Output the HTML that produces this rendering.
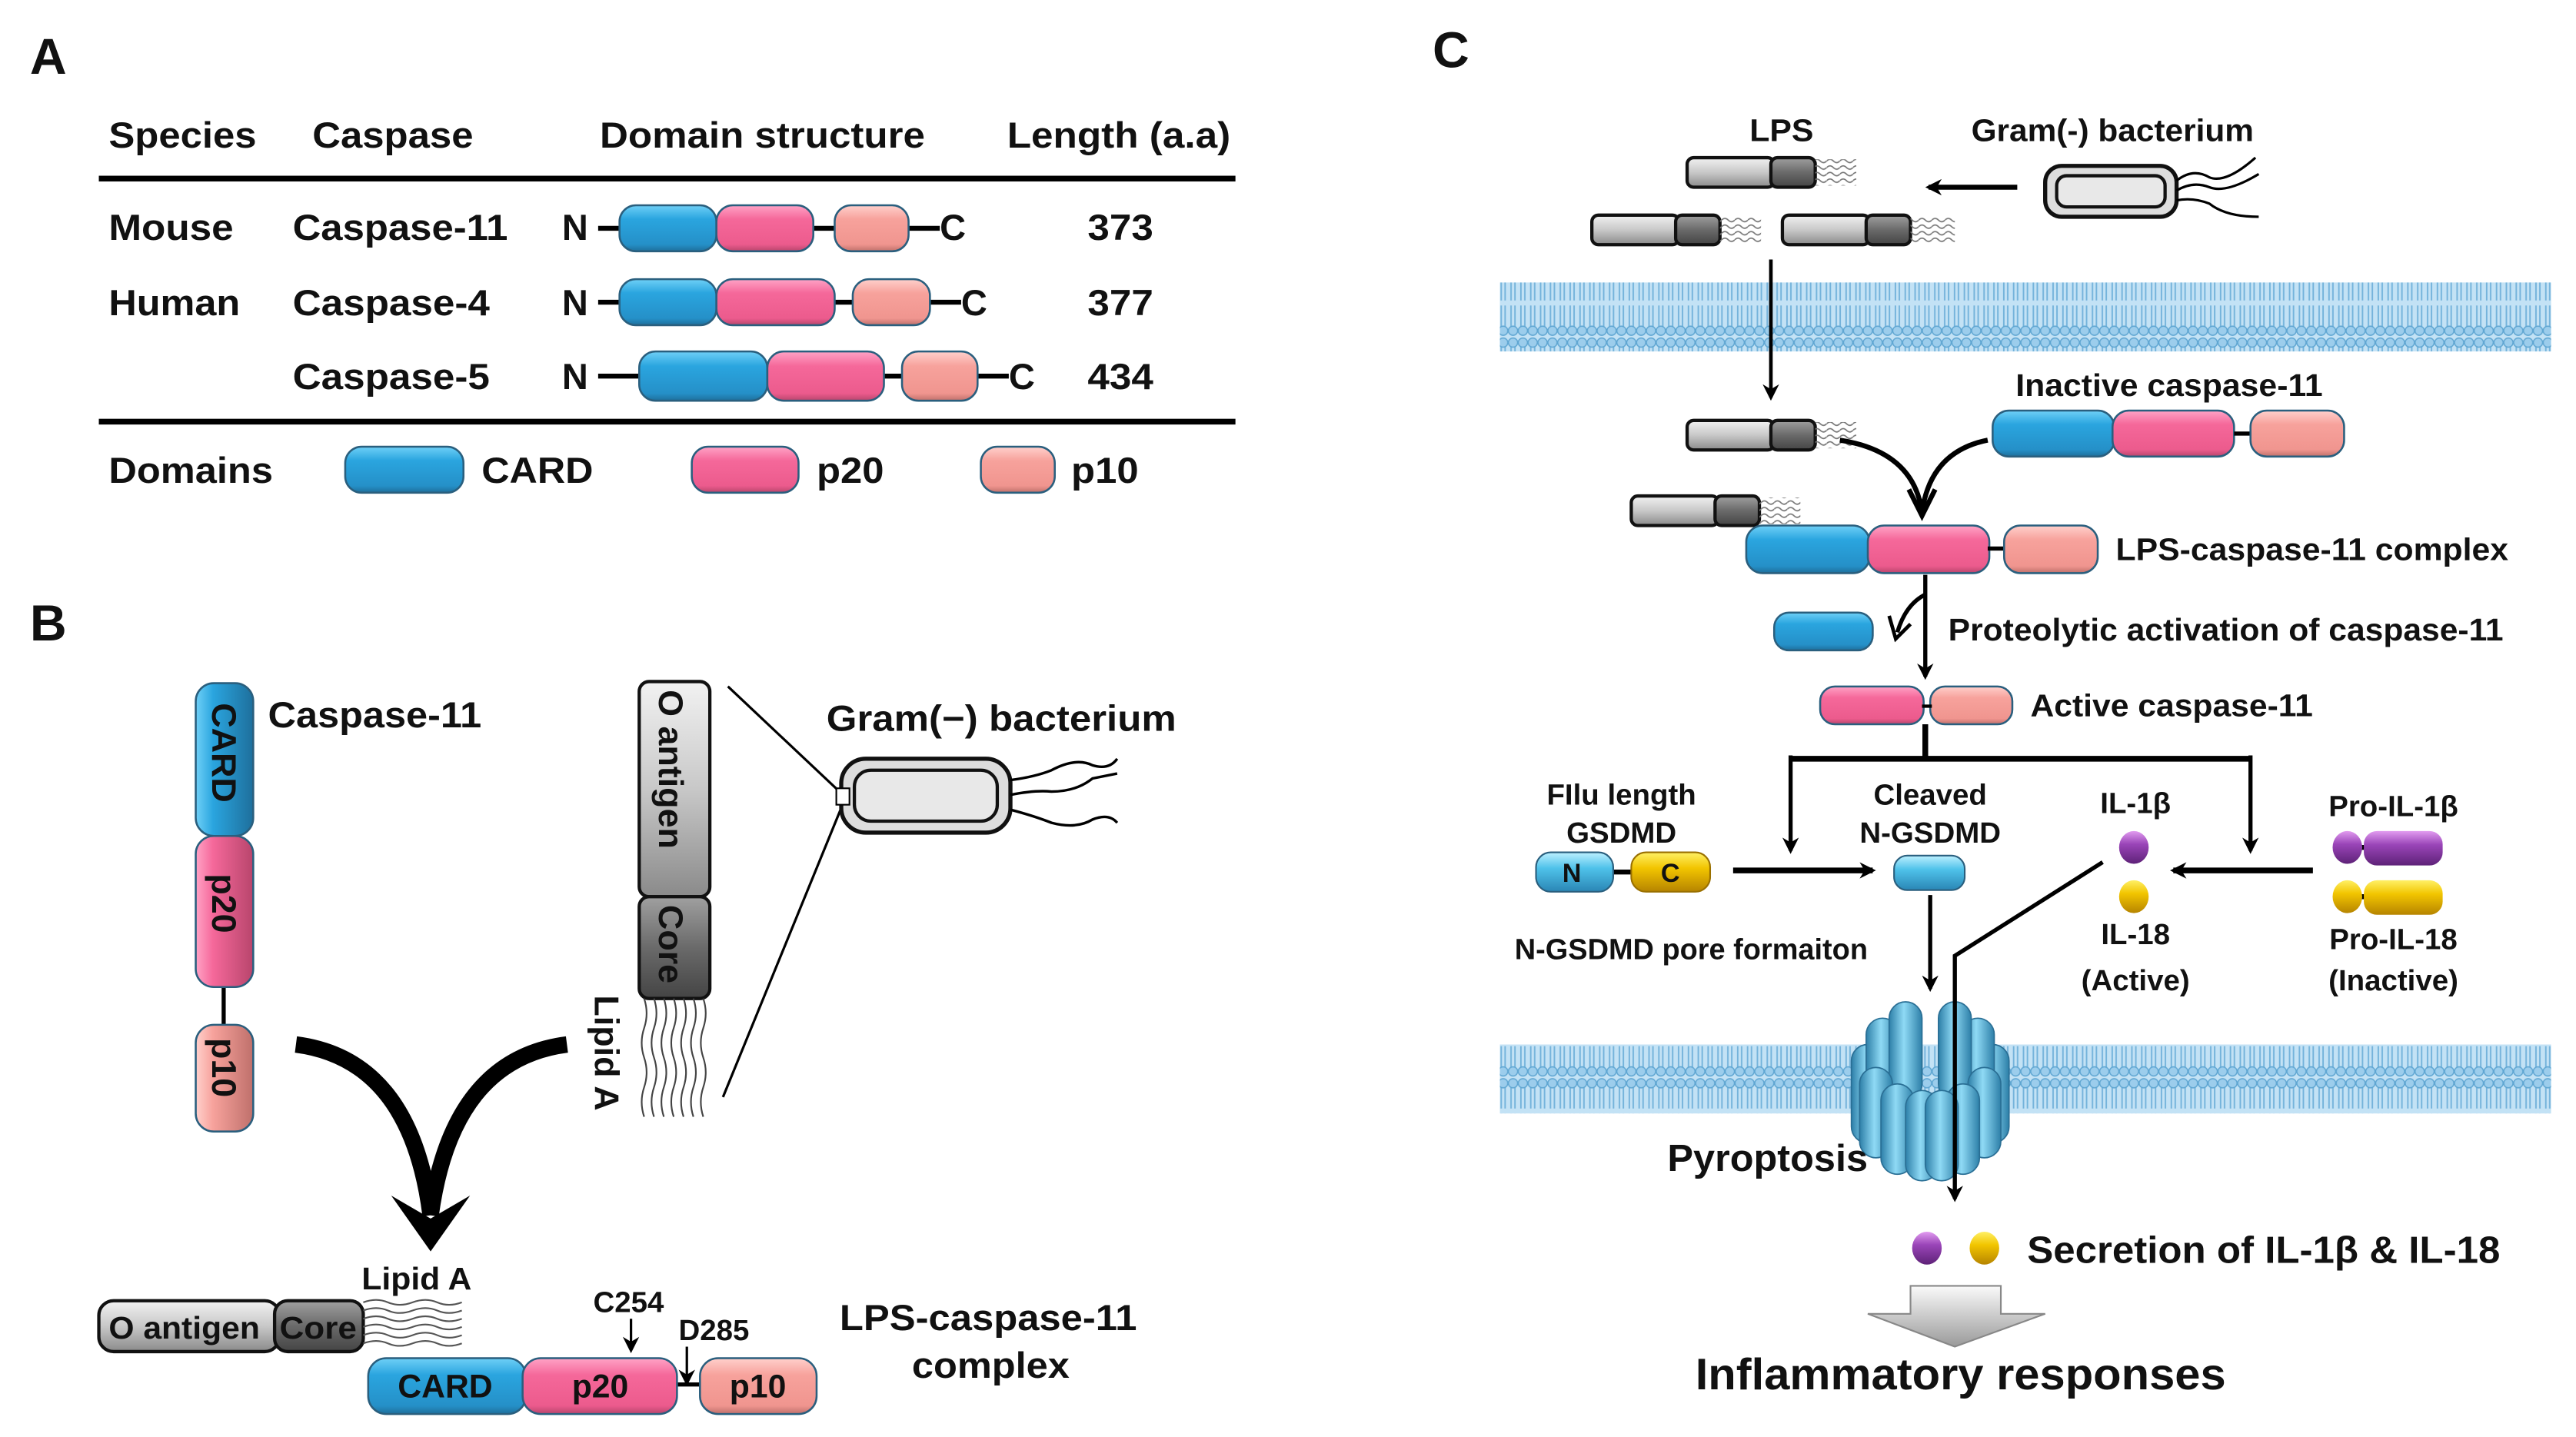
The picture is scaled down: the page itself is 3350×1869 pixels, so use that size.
<!DOCTYPE html>
<html><head><meta charset="utf-8"><style>html,body{margin:0;padding:0;background:#fff}svg{display:block}text{font-family:"Liberation Sans",Arial,sans-serif;font-weight:bold;fill:#111}</style></head>
<body>
<svg width="3350" height="1869" viewBox="0 0 1568 875" xmlns="http://www.w3.org/2000/svg">
<defs>
<linearGradient id="gb" x1="0" y1="0" x2="0" y2="1"><stop offset="0" stop-color="#6fd0f7"/><stop offset="0.3" stop-color="#2aa5df"/><stop offset="0.85" stop-color="#2590c8"/><stop offset="1" stop-color="#1e6f9c"/></linearGradient>
<linearGradient id="gp" x1="0" y1="0" x2="0" y2="1"><stop offset="0" stop-color="#ffa3c6"/><stop offset="0.3" stop-color="#f5689a"/><stop offset="0.85" stop-color="#ec5b8d"/><stop offset="1" stop-color="#b8456c"/></linearGradient>
<linearGradient id="gs" x1="0" y1="0" x2="0" y2="1"><stop offset="0" stop-color="#ffd0cc"/><stop offset="0.3" stop-color="#f7a29c"/><stop offset="0.85" stop-color="#f0958f"/><stop offset="1" stop-color="#bf706b"/></linearGradient>
<linearGradient id="gbv" x1="0" y1="0" x2="1" y2="0"><stop offset="0" stop-color="#6fd0f7"/><stop offset="0.3" stop-color="#2aa5df"/><stop offset="1" stop-color="#1e6f9c"/></linearGradient>
<linearGradient id="gpv" x1="0" y1="0" x2="1" y2="0"><stop offset="0" stop-color="#ffa3c6"/><stop offset="0.3" stop-color="#f5689a"/><stop offset="1" stop-color="#b8456c"/></linearGradient>
<linearGradient id="gsv" x1="0" y1="0" x2="1" y2="0"><stop offset="0" stop-color="#ffd0cc"/><stop offset="0.3" stop-color="#f7a29c"/><stop offset="1" stop-color="#bf706b"/></linearGradient>
<linearGradient id="gl" x1="0" y1="0" x2="0" y2="1"><stop offset="0" stop-color="#f2f2f2"/><stop offset="0.5" stop-color="#c8c8c8"/><stop offset="1" stop-color="#8a8a8a"/></linearGradient>
<linearGradient id="gd" x1="0" y1="0" x2="0" y2="1"><stop offset="0" stop-color="#a0a0a0"/><stop offset="0.5" stop-color="#6a6a6a"/><stop offset="1" stop-color="#444"/></linearGradient>
<linearGradient id="gy" x1="0" y1="0" x2="0" y2="1"><stop offset="0" stop-color="#fff066"/><stop offset="0.4" stop-color="#f2c500"/><stop offset="1" stop-color="#b68400"/></linearGradient>
<linearGradient id="gv" x1="0" y1="0" x2="0" y2="1"><stop offset="0" stop-color="#e29cf0"/><stop offset="0.4" stop-color="#9a45b8"/><stop offset="1" stop-color="#5e2278"/></linearGradient>
<linearGradient id="gc" x1="0" y1="0" x2="0" y2="1"><stop offset="0" stop-color="#bdf0ff"/><stop offset="0.4" stop-color="#4fc2ea"/><stop offset="1" stop-color="#2a86b5"/></linearGradient>
<linearGradient id="gpore" x1="0" y1="0" x2="1" y2="0"><stop offset="0" stop-color="#2d7fa8"/><stop offset="0.45" stop-color="#8fdaf5"/><stop offset="1" stop-color="#2d7fa8"/></linearGradient>
<linearGradient id="garr" x1="0" y1="0" x2="0" y2="1"><stop offset="0" stop-color="#fafafa"/><stop offset="1" stop-color="#9a9a9a"/></linearGradient>
<pattern id="mem" width="6" height="41" patternUnits="userSpaceOnUse">
<rect width="6" height="41" fill="#c3e2f5"/>
<path d="M1.8 6 V19 M4.2 6 V19 M1.8 22 V35 M4.2 22 V35" stroke="#74b3db" stroke-width="0.9"/>
<circle cx="3" cy="3.6" r="2.8" fill="#9ccdec" stroke="#5fa6d2" stroke-width="0.7"/>
<circle cx="3" cy="37.4" r="2.8" fill="#9ccdec" stroke="#5fa6d2" stroke-width="0.7"/>
</pattern>
<pattern id="lip" width="8" height="4" patternUnits="userSpaceOnUse">
<path d="M0 2 Q2 0 4 2 T8 2" fill="none" stroke="#777" stroke-width="0.8"/>
</pattern>
<marker id="ah" markerWidth="10" markerHeight="10" refX="8" refY="5" orient="auto" markerUnits="userSpaceOnUse"><path d="M0 0 L10 5 L0 10 L3 5z" fill="#000"/></marker>
</defs>

<!-- PANEL A -->
<text x="18" y="45" font-size="31">A</text>
<g font-size="22">
<text x="66" y="90" textLength="90" lengthAdjust="spacingAndGlyphs">Species</text><text x="190" y="90" textLength="98" lengthAdjust="spacingAndGlyphs">Caspase</text><text x="365" y="90" textLength="198" lengthAdjust="spacingAndGlyphs">Domain structure</text><text x="613" y="90" textLength="136" lengthAdjust="spacingAndGlyphs">Length (a.a)</text>
</g>
<rect x="60" y="107" width="692" height="3.5" fill="#000"/>
<rect x="60" y="255" width="692" height="3.5" fill="#000"/>
<g font-size="22">
<text x="66" y="146" textLength="76" lengthAdjust="spacingAndGlyphs">Mouse</text><text x="178" y="146" textLength="131" lengthAdjust="spacingAndGlyphs">Caspase-11</text><text x="342" y="146">N</text><text x="572" y="146">C</text><text x="662" y="146" textLength="40" lengthAdjust="spacingAndGlyphs">373</text>
<text x="66" y="192" textLength="80" lengthAdjust="spacingAndGlyphs">Human</text><text x="178" y="192" textLength="120" lengthAdjust="spacingAndGlyphs">Caspase-4</text><text x="342" y="192">N</text><text x="585" y="192">C</text><text x="662" y="192" textLength="40" lengthAdjust="spacingAndGlyphs">377</text>
<text x="178" y="237" textLength="120" lengthAdjust="spacingAndGlyphs">Caspase-5</text><text x="342" y="237">N</text><text x="614" y="237">C</text><text x="662" y="237" textLength="40" lengthAdjust="spacingAndGlyphs">434</text>
<text x="66" y="294" textLength="100" lengthAdjust="spacingAndGlyphs">Domains</text><text x="293" y="294" textLength="68" lengthAdjust="spacingAndGlyphs">CARD</text><text x="497" y="294" textLength="41" lengthAdjust="spacingAndGlyphs">p20</text><text x="652" y="294" textLength="41" lengthAdjust="spacingAndGlyphs">p10</text>
</g>
<g stroke="#000" stroke-width="3">
<line x1="364" y1="139" x2="572" y2="139"/><line x1="364" y1="184" x2="585" y2="184"/><line x1="364" y1="229" x2="614" y2="229"/>
</g>
<g stroke="#2a5f7e" stroke-width="1.2">
<rect x="377" y="125" width="59" height="28" rx="10" fill="url(#gb)"/><rect x="436" y="125" width="59" height="28" rx="10" fill="url(#gp)"/><rect x="508" y="125" width="45" height="28" rx="10" fill="url(#gs)"/>
<rect x="377" y="170" width="59" height="28" rx="10" fill="url(#gb)"/><rect x="436" y="170" width="72" height="28" rx="10" fill="url(#gp)"/><rect x="519" y="170" width="47" height="28" rx="10" fill="url(#gs)"/>
<rect x="389" y="214" width="78" height="30" rx="10" fill="url(#gb)"/><rect x="467" y="214" width="71" height="30" rx="10" fill="url(#gp)"/><rect x="549" y="214" width="46" height="30" rx="10" fill="url(#gs)"/>
<rect x="210" y="272" width="72" height="28" rx="10" fill="url(#gb)"/><rect x="421" y="272" width="65" height="28" rx="10" fill="url(#gp)"/><rect x="597" y="272" width="45" height="28" rx="10" fill="url(#gs)"/>
</g>

<!-- PANEL B -->
<text x="18" y="390" font-size="31">B</text>
<line x1="136" y1="600" x2="136" y2="625" stroke="#000" stroke-width="2.5"/>
<g stroke="#2a5f7e" stroke-width="1.2">
<rect x="119" y="416" width="35" height="93" rx="11" fill="url(#gbv)"/>
<rect x="119" y="509" width="35" height="92" rx="11" fill="url(#gpv)"/>
<rect x="119" y="624" width="35" height="65" rx="11" fill="url(#gsv)"/>
</g>
<g font-size="21">
<text transform="translate(129,428) rotate(90)">CARD</text>
<text transform="translate(129,532) rotate(90)">p20</text>
<text transform="translate(129,632) rotate(90)">p10</text>
<text x="163" y="443" font-size="22" textLength="130" lengthAdjust="spacingAndGlyphs">Caspase-11</text>
</g>
<rect x="389" y="415" width="43" height="131" rx="6" fill="url(#gl)" stroke="#111" stroke-width="2"/>
<rect x="389" y="546" width="43" height="62" rx="6" fill="url(#gd)" stroke="#111" stroke-width="2"/>
<g font-size="21"><text transform="translate(401,420) rotate(90)">O antigen</text><text transform="translate(401,551) rotate(90)">Core</text><text transform="translate(362,606) rotate(90)">Lipid A</text></g>
<g stroke="#444" stroke-width="1" fill="none">
<path d="M392 608 q3 9 0 18 q-3 9 0 18 q3 9 0 18 q-3 9 0 18"/><path d="M398 608 q3 9 0 18 q-3 9 0 18 q3 9 0 18 q-3 9 0 18"/><path d="M404 608 q3 9 0 18 q-3 9 0 18 q3 9 0 18 q-3 9 0 18"/><path d="M410 608 q3 9 0 18 q-3 9 0 18 q3 9 0 18 q-3 9 0 18"/><path d="M416 608 q3 9 0 18 q-3 9 0 18 q3 9 0 18 q-3 9 0 18"/><path d="M422 608 q3 9 0 18 q-3 9 0 18 q3 9 0 18 q-3 9 0 18"/><path d="M428 608 q3 9 0 18 q-3 9 0 18 q3 9 0 18 q-3 9 0 18"/>
</g>
<line x1="443" y1="418" x2="512" y2="483" stroke="#000" stroke-width="1.5"/>
<line x1="440" y1="668" x2="512" y2="492" stroke="#000" stroke-width="1.5"/>
<text x="503" y="445" font-size="22" textLength="213" lengthAdjust="spacingAndGlyphs">Gram(−) bacterium</text>
<rect x="512" y="462" width="103" height="45" rx="15" fill="#ddd" stroke="#111" stroke-width="2.5"/>
<rect x="520" y="469" width="87" height="31" rx="10" fill="#e8e8e8" stroke="#111" stroke-width="2"/>
<rect x="509" y="480" width="8" height="10" fill="#fff" stroke="#000" stroke-width="1"/>
<g stroke="#000" stroke-width="1.6" fill="none">
<path d="M615 475 q15 -2 25 -6 q15 -8 25 -3 q10 3 15 -4"/><path d="M615 484 q15 -3 25 -2 q15 0 25 -8 q10 -2 15 -3"/><path d="M615 493 q15 4 25 8 q15 4 25 -2 q10 -4 15 2"/>
</g>
<path d="M180 636 Q250 645 262 740 M345 636 Q275 645 262 740" fill="none" stroke="#000" stroke-width="10"/>
<path d="M238 728 L262 762 L286 728 L262 742z" fill="#000"/>
<text x="220" y="785" font-size="19" textLength="67" lengthAdjust="spacingAndGlyphs">Lipid A</text>
<rect x="60" y="792" width="110" height="31" rx="9" fill="url(#gl)" stroke="#111" stroke-width="2"/>
<rect x="167" y="792" width="54" height="31" rx="8" fill="url(#gd)" stroke="#111" stroke-width="2"/>
<text x="66" y="815" font-size="19" textLength="92" lengthAdjust="spacingAndGlyphs">O antigen</text><text x="170" y="815" font-size="19" textLength="47" lengthAdjust="spacingAndGlyphs">Core</text>
<g stroke="#555" stroke-width="1" fill="none">
<path d="M221 793 q8 -3 15 0 t15 0 t15 0 t15 0"/><path d="M221 798 q8 -3 15 0 t15 0 t15 0 t15 0"/><path d="M221 803 q8 -3 15 0 t15 0 t15 0 t15 0"/><path d="M221 808 q8 -3 15 0 t15 0 t15 0 t15 0"/><path d="M221 813 q8 -3 15 0 t15 0 t15 0 t15 0"/><path d="M221 818 q8 -3 15 0 t15 0 t15 0 t15 0"/>
</g>
<line x1="410" y1="843" x2="428" y2="843" stroke="#000" stroke-width="2.5"/>
<g stroke="#2a5f7e" stroke-width="1.2">
<rect x="224" y="827" width="96" height="34" rx="11" fill="url(#gb)"/><rect x="318" y="827" width="94" height="34" rx="11" fill="url(#gp)"/><rect x="426" y="827" width="71" height="34" rx="11" fill="url(#gs)"/>
</g>
<g font-size="20"><text x="242" y="851">CARD</text><text x="348" y="851">p20</text><text x="444" y="851">p10</text></g>
<g font-size="18"><text x="361" y="799">C254</text><text x="413" y="816">D285</text></g>
<line x1="384" y1="803" x2="384" y2="822" stroke="#000" stroke-width="1.5" marker-end="url(#ah)"/>
<line x1="418" y1="820" x2="418" y2="842" stroke="#000" stroke-width="1.5" marker-end="url(#ah)"/>
<g font-size="22"><text x="511" y="810" textLength="181" lengthAdjust="spacingAndGlyphs">LPS-caspase-11</text><text x="555" y="839" textLength="96" lengthAdjust="spacingAndGlyphs">complex</text></g>

<!-- PANEL C -->
<text x="872" y="41" font-size="31">C</text>
<g font-size="19"><text x="1065" y="86" textLength="39" lengthAdjust="spacingAndGlyphs">LPS</text><text x="1200" y="86" textLength="172" lengthAdjust="spacingAndGlyphs">Gram(-) bacterium</text></g>
<g stroke="#111" stroke-width="2">
<rect x="1027" y="96" width="53" height="18" rx="4" fill="url(#gl)"/><rect x="1078" y="96" width="27" height="18" rx="4" fill="url(#gd)"/>
<rect x="1105" y="97" width="25" height="16" fill="url(#lip)" stroke="none"/>
<rect x="969" y="131" width="53" height="18" rx="4" fill="url(#gl)"/><rect x="1020" y="131" width="27" height="18" rx="4" fill="url(#gd)"/>
<rect x="1047" y="132" width="25" height="16" fill="url(#lip)" stroke="none"/>
<rect x="1085" y="131" width="53" height="18" rx="4" fill="url(#gl)"/><rect x="1136" y="131" width="27" height="18" rx="4" fill="url(#gd)"/>
<rect x="1163" y="132" width="27" height="16" fill="url(#lip)" stroke="none"/>
<rect x="1027" y="256" width="53" height="18" rx="4" fill="url(#gl)"/><rect x="1078" y="256" width="27" height="18" rx="4" fill="url(#gd)"/>
<rect x="1105" y="257" width="25" height="16" fill="url(#lip)" stroke="none"/>
<rect x="993" y="302" width="53" height="18" rx="4" fill="url(#gl)"/><rect x="1044" y="302" width="27" height="18" rx="4" fill="url(#gd)"/>
<rect x="1071" y="303" width="25" height="16" fill="url(#lip)" stroke="none"/>
</g>
<line x1="1228" y1="114" x2="1174" y2="114" stroke="#000" stroke-width="3" marker-end="url(#ah)"/>
<rect x="1245" y="101" width="80" height="31" rx="10" fill="#ddd" stroke="#111" stroke-width="2.5"/>
<rect x="1252" y="107" width="66" height="19" rx="6" fill="#e8e8e8" stroke="#111" stroke-width="2"/>
<g stroke="#000" stroke-width="1.5" fill="none">
<path d="M1325 110 q10 -8 20 -2 q10 4 28 -12"/><path d="M1325 116 q10 -6 20 -2 q10 4 30 -8"/><path d="M1325 122 q10 -2 20 2 q10 8 30 8"/>
</g>
<rect x="913" y="172" width="640" height="42" fill="url(#mem)"/>
<line x1="1078" y1="158" x2="1078" y2="242" stroke="#000" stroke-width="2.2" marker-end="url(#ah)"/>
<text x="1227" y="241" font-size="19" textLength="187" lengthAdjust="spacingAndGlyphs">Inactive caspase-11</text>
<g stroke="#2a5f7e" stroke-width="1.2">
<rect x="1213" y="250" width="74" height="28" rx="10" fill="url(#gb)"/><rect x="1286" y="250" width="74" height="28" rx="10" fill="url(#gp)"/>
</g>
<line x1="1360" y1="264" x2="1372" y2="264" stroke="#000" stroke-width="2.5"/>
<rect x="1370" y="250" width="57" height="28" rx="10" fill="url(#gs)" stroke="#2a5f7e" stroke-width="1.2"/>
<path d="M1120 268 Q1165 275 1170 312 M1210 268 Q1175 275 1170 312" fill="none" stroke="#000" stroke-width="3"/>
<path d="M1162 298 L1170 314 L1178 298" fill="none" stroke="#000" stroke-width="3"/>
<g stroke="#2a5f7e" stroke-width="1.2">
<rect x="1063" y="320" width="75" height="29" rx="10" fill="url(#gb)"/><rect x="1137" y="320" width="74" height="29" rx="10" fill="url(#gp)"/>
</g>
<line x1="1210" y1="334" x2="1222" y2="334" stroke="#000" stroke-width="2.5"/>
<rect x="1220" y="320" width="57" height="29" rx="10" fill="url(#gs)" stroke="#2a5f7e" stroke-width="1.2"/>
<text x="1288" y="341" font-size="19" textLength="239" lengthAdjust="spacingAndGlyphs">LPS-caspase-11 complex</text>
<line x1="1172" y1="350" x2="1172" y2="412" stroke="#000" stroke-width="2.5" marker-end="url(#ah)"/>
<path d="M1172 362 Q1160 368 1155 385" fill="none" stroke="#000" stroke-width="2.5"/>
<path d="M1150 375 L1154 389 L1163 380" fill="none" stroke="#000" stroke-width="2.2"/>
<rect x="1080" y="373" width="60" height="23" rx="9" fill="url(#gb)" stroke="#2a5f7e" stroke-width="1.2"/>
<text x="1186" y="390" font-size="19" textLength="338" lengthAdjust="spacingAndGlyphs">Proteolytic activation of caspase-11</text>
<g stroke="#2a5f7e" stroke-width="1.2">
<rect x="1108" y="418" width="63" height="23" rx="9" fill="url(#gp)"/><rect x="1175" y="418" width="50" height="23" rx="9" fill="url(#gs)"/>
</g>
<line x1="1170" y1="430" x2="1176" y2="430" stroke="#000" stroke-width="2"/>
<text x="1236" y="436" font-size="19" textLength="172" lengthAdjust="spacingAndGlyphs">Active caspase-11</text>
<path d="M1172 441 V462 M1090 462 H1370" stroke="#000" stroke-width="3.5" fill="none"/>
<line x1="1090" y1="460" x2="1090" y2="518" stroke="#000" stroke-width="2.5" marker-end="url(#ah)"/>
<line x1="1370" y1="460" x2="1370" y2="518" stroke="#000" stroke-width="2.5" marker-end="url(#ah)"/>
<g font-size="18" text-anchor="middle">
<text x="987" y="490">FIlu length</text><text x="987" y="513">GSDMD</text>
<text x="1175" y="490">Cleaved</text><text x="1175" y="513">N-GSDMD</text>
<text x="1300" y="495">IL-1β</text><text x="1300" y="575">IL-18</text><text x="1300" y="603">(Active)</text>
<text x="1457" y="497">Pro-IL-1β</text><text x="1457" y="578">Pro-IL-18</text><text x="1457" y="603">(Inactive)</text>
</g>
<line x1="980" y1="531" x2="995" y2="531" stroke="#000" stroke-width="3"/>
<rect x="935" y="519" width="47" height="24" rx="9" fill="url(#gc)" stroke="#2a5f7e" stroke-width="1"/>
<rect x="993" y="519" width="48" height="24" rx="9" fill="url(#gy)" stroke="#9a7000" stroke-width="1"/>
<text x="951" y="537" font-size="16">N</text><text x="1011" y="537" font-size="16">C</text>
<line x1="1055" y1="530" x2="1140" y2="530" stroke="#000" stroke-width="3.5" marker-end="url(#ah)"/>
<rect x="1153" y="521" width="43" height="21" rx="8" fill="url(#gc)" stroke="#2a5f7e" stroke-width="1"/>
<line x1="1408" y1="530" x2="1323" y2="530" stroke="#000" stroke-width="3.5" marker-end="url(#ah)"/>
<ellipse cx="1299" cy="516" rx="9" ry="10" fill="url(#gv)"/>
<ellipse cx="1299" cy="546" rx="9" ry="10" fill="url(#gy)"/>
<line x1="1428" y1="516" x2="1440" y2="516" stroke="#000" stroke-width="3"/>
<line x1="1428" y1="546" x2="1440" y2="546" stroke="#000" stroke-width="3"/>
<ellipse cx="1429" cy="516" rx="9" ry="10" fill="url(#gv)"/><rect x="1439" y="506" width="48" height="21" rx="8" fill="url(#gv)"/>
<ellipse cx="1429" cy="546" rx="9" ry="10" fill="url(#gy)"/><rect x="1439" y="536" width="48" height="21" rx="8" fill="url(#gy)"/>
<text x="922" y="584" font-size="18" textLength="215" lengthAdjust="spacingAndGlyphs">N-GSDMD pore formaiton</text>
<line x1="1175" y1="545" x2="1175" y2="602" stroke="#000" stroke-width="2.5" marker-end="url(#ah)"/>
<rect x="913" y="636" width="640" height="42" fill="url(#mem)"/>
<g stroke="#2a6f95" stroke-width="0.8">
<rect x="1127" y="636" width="20" height="60" rx="10" fill="url(#gpore)"/>
<rect x="1203" y="636" width="20" height="60" rx="10" fill="url(#gpore)"/>
<rect x="1136" y="620" width="20" height="62" rx="10" fill="url(#gpore)"/>
<rect x="1194" y="620" width="20" height="62" rx="10" fill="url(#gpore)"/>
<rect x="1150" y="610" width="20" height="60" rx="10" fill="url(#gpore)"/>
<rect x="1180" y="610" width="20" height="60" rx="10" fill="url(#gpore)"/>
<rect x="1132" y="650" width="20" height="55" rx="10" fill="url(#gpore)"/>
<rect x="1198" y="650" width="20" height="55" rx="10" fill="url(#gpore)"/>
<rect x="1145" y="660" width="20" height="55" rx="10" fill="url(#gpore)"/>
<rect x="1185" y="660" width="20" height="55" rx="10" fill="url(#gpore)"/>
<rect x="1160" y="664" width="20" height="55" rx="10" fill="url(#gpore)"/>
<rect x="1172" y="664" width="20" height="55" rx="10" fill="url(#gpore)"/>
</g>
<path d="M1280 525 L1190 582 V730" fill="none" stroke="#000" stroke-width="2.5" marker-end="url(#ah)"/>
<text x="1015" y="713" font-size="23" textLength="122" lengthAdjust="spacingAndGlyphs">Pyroptosis</text>
<ellipse cx="1173" cy="760" rx="9" ry="10" fill="url(#gv)"/>
<ellipse cx="1208" cy="760" rx="9" ry="10" fill="url(#gy)"/>
<text x="1234" y="769" font-size="23" textLength="288" lengthAdjust="spacingAndGlyphs">Secretion of IL-1β &amp; IL-18</text>
<path d="M1163 783 H1218 V800 H1245 L1190 820 L1137 800 H1163z" fill="url(#garr)" stroke="#888" stroke-width="1"/>
<text x="1032" y="846" font-size="27" textLength="323" lengthAdjust="spacingAndGlyphs">Inflammatory responses</text>
</svg>
</body></html>
